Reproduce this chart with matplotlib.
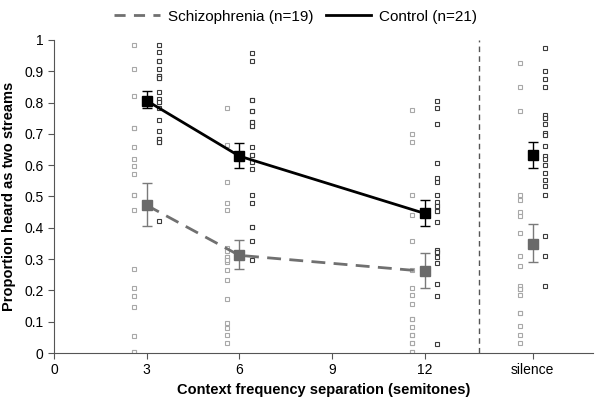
import matplotlib
matplotlib.use("Agg")
import matplotlib.pyplot as plt
from matplotlib.lines import Line2D

plt.rcParams['font.family'] = ['Liberation Sans', 'DejaVu Sans']

# condition positions (silence placed at 15.5 on the semitone axis)
positions = [3, 6, 12, 15.5]
tick_pos = [0, 3, 6, 9, 12, 15.5]
tick_labels = ['0', '3', '6', '9', '12', 'silence']

# group means and standard errors
schiz_mean = [0.472, 0.312, 0.261, 0.349]
schiz_lo = [0.405, 0.269, 0.207, 0.291]
schiz_hi = [0.542, 0.360, 0.319, 0.412]
ctrl_mean = [0.806, 0.629, 0.446, 0.631]
ctrl_lo = [0.784, 0.590, 0.405, 0.592]
ctrl_hi = [0.837, 0.672, 0.490, 0.674]

# individual participants
schiz_3 = [0.985, 0.907, 0.822, 0.718, 0.718, 0.658, 0.619, 0.597, 0.571, 0.506,
           0.456, 0.268, 0.209, 0.181, 0.146, 0.054, 0.004, 0.004, 0.506]
schiz_6 = [0.782, 0.665, 0.546, 0.480, 0.456, 0.335, 0.325, 0.306, 0.298, 0.291,
           0.266, 0.232, 0.172, 0.095, 0.081, 0.058, 0.031, 0.306, 0.298]
schiz_12 = [0.776, 0.699, 0.674, 0.506, 0.442, 0.357, 0.264, 0.209, 0.184, 0.157,
            0.108, 0.082, 0.058, 0.031, 0.004, 0.004, 0.031, 0.058, 0.108]
schiz_sil = [0.926, 0.851, 0.773, 0.504, 0.490, 0.450, 0.437, 0.383, 0.311, 0.279,
             0.215, 0.204, 0.184, 0.129, 0.087, 0.058, 0.031, 0.204, 0.129]
ctrl_3 = [0.985, 0.960, 0.934, 0.907, 0.886, 0.877, 0.834, 0.811, 0.802, 0.781,
          0.745, 0.709, 0.683, 0.674, 0.421, 0.886, 0.877, 0.802, 0.683, 0.674, 0.934]
ctrl_6 = [0.958, 0.932, 0.808, 0.773, 0.773, 0.738, 0.725, 0.659, 0.632, 0.610,
          0.587, 0.506, 0.480, 0.403, 0.403, 0.359, 0.298, 0.808, 0.738, 0.725, 0.632]
ctrl_12 = [0.806, 0.782, 0.731, 0.608, 0.560, 0.546, 0.506, 0.482, 0.471, 0.455,
           0.418, 0.330, 0.322, 0.306, 0.289, 0.221, 0.181, 0.029, 0.471, 0.455, 0.322]
ctrl_sil = [0.974, 0.902, 0.875, 0.851, 0.760, 0.752, 0.731, 0.704, 0.696, 0.661,
            0.629, 0.620, 0.599, 0.576, 0.554, 0.533, 0.506, 0.373, 0.311, 0.215, 0.752]

schiz_ind = [schiz_3, schiz_6, schiz_12, schiz_sil]
ctrl_ind = [ctrl_3, ctrl_6, ctrl_12, ctrl_sil]

fig = plt.figure(figsize=(6.0, 4.03), dpi=100)
ax = fig.add_axes([0.09, 0.124, 0.898, 0.777])

offset = 0.4
for p, vals in zip(positions, schiz_ind):
    ax.plot([p - offset] * len(vals), vals, linestyle='none', marker='s',
            markersize=3.2, markerfacecolor='white', markeredgecolor='#a8a8a8',
            markeredgewidth=0.8, zorder=2)
for p, vals in zip(positions, ctrl_ind):
    ax.plot([p + offset] * len(vals), vals, linestyle='none', marker='s',
            markersize=3.2, markerfacecolor='white', markeredgecolor='#3c3c3c',
            markeredgewidth=0.8, zorder=2)

# connected lines for the semitone conditions
ax.plot(positions[:3], schiz_mean[:3], color='#707070', linestyle=(0, (5, 3)),
        linewidth=2.0, zorder=3)
ax.plot(positions[:3], ctrl_mean[:3], color='black', linewidth=2.0, zorder=3)

# error bars and mean markers
s_err = [[m - l for m, l in zip(schiz_mean, schiz_lo)],
         [h - m for m, h in zip(schiz_mean, schiz_hi)]]
c_err = [[m - l for m, l in zip(ctrl_mean, ctrl_lo)],
         [h - m for m, h in zip(ctrl_mean, ctrl_hi)]]
ax.errorbar(positions, schiz_mean, yerr=s_err, fmt='s', color='#6a6a6a',
            ecolor='#7a7a7a', elinewidth=1.0, capsize=3.5, capthick=1.0,
            markersize=6.5, zorder=4)
ax.errorbar(positions, ctrl_mean, yerr=c_err, fmt='s', color='black',
            ecolor='black', elinewidth=1.0, capsize=3.5, capthick=1.0,
            markersize=6.5, zorder=4)

# separator before the silence condition
ax.axvline(13.75, color='#555555', linestyle=(0, (4, 3)), linewidth=1.0, zorder=1)

ax.set_xlim(0, 17.45)
ax.set_ylim(0, 1)
ax.set_xticks(tick_pos)
ax.set_xticklabels(tick_labels)
ax.set_yticks([i / 10 for i in range(11)])
ax.set_yticklabels(['0', '0.1', '0.2', '0.3', '0.4', '0.5', '0.6', '0.7', '0.8', '0.9', '1'])
ax.tick_params(axis='both', labelsize=10, color='#555555', length=4, width=0.8)
ax.spines['top'].set_visible(False)
ax.spines['right'].set_visible(False)
ax.spines['left'].set_color('#555555')
ax.spines['bottom'].set_color('#555555')

ax.set_xlabel('Context frequency separation (semitones)', fontsize=10.5,
              fontweight='bold', labelpad=4)
ax.set_ylabel('Proportion heard as two streams', fontsize=10.5,
              fontweight='bold', labelpad=6)

handles = [Line2D([0], [0], color='#707070', linestyle=(0, (4, 3)), linewidth=2.0),
           Line2D([0], [0], color='black', linewidth=2.0)]
fig.legend(handles, ['Schizophrenia (n=19)', 'Control (n=21)'], loc='upper center',
           bbox_to_anchor=(0.493, 1.01), ncol=2, frameon=False, fontsize=11,
           handlelength=3.0, handletextpad=0.5, columnspacing=0.8)

fig.savefig('out.png', dpi=100)
